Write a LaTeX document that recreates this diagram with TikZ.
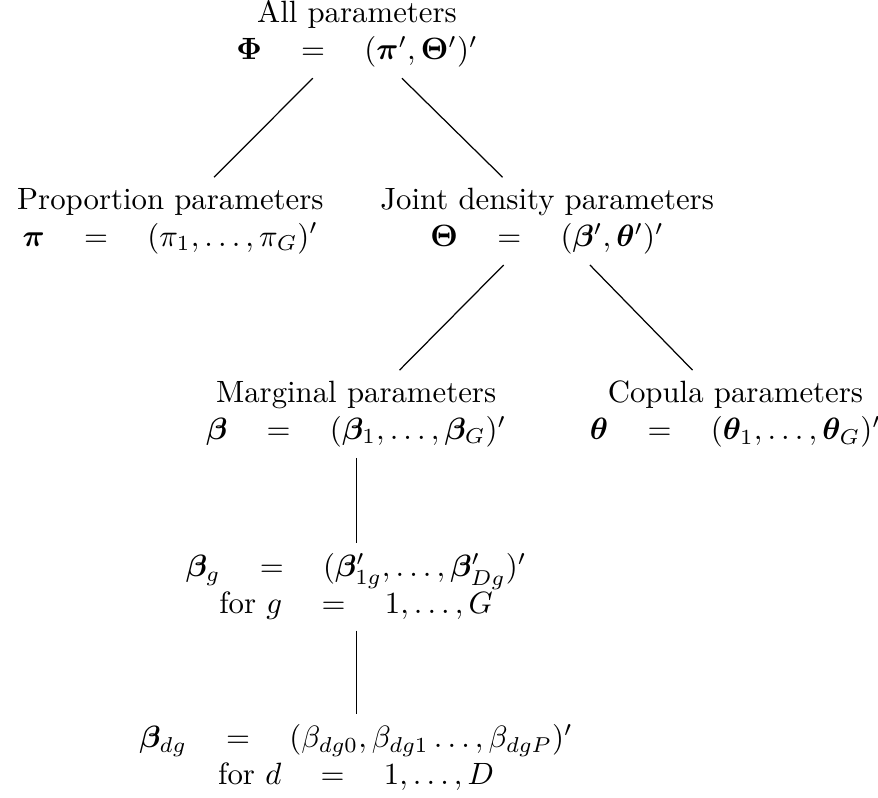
\documentclass[tikz,border=0pt]{standalone}
\usepackage{amsmath,amssymb,amsfonts}
\usepackage{bm}
\usepackage{tikz}
\usetikzlibrary{positioning}

\begin{document}
\begin{tikzpicture}[
        params/.style={align=center, inner sep=3.33pt},
        link/.style={line width=0.4pt}
    ]
    \useasboundingbox (-4.075,0.388) rectangle (5.947,-8.71);
    \node [params] (root) {All parameters\\ $\bm{\Phi} \quad = \quad (\bm{\pi}', \bm{\Theta}')'$};
    \node [params, below=1.13cm of root, xshift=-2.13cm] (prop)
        {Proportion parameters\\ $\bm{\pi} \quad = \quad (\pi_1, \ldots, \pi_G)'$};
    \node [params, below=1.13cm of root, xshift=2.17cm] (joint)
        {Joint density parameters\\ $\bm{\Theta} \quad = \quad (\bm{\beta}', \bm{\theta}')'$};
    \node [params, below=1.2cm of joint, xshift=-2.18cm] (marg)
        {Marginal parameters\\ $\bm{\beta} \quad = \quad (\bm{\beta}_1, \ldots, \bm{\beta}_G)'$};
    \node [params, below=1.2cm of joint, xshift=2.15cm] (cop)
        {Copula parameters\\ $\bm{\theta} \quad = \quad (\bm{\theta}_1, \ldots, \bm{\theta}_G)'$};
    \node [params, below=0.97cm of marg] (bg)
        {$\bm{\beta}_g \quad = \quad (\bm{\beta}'_{1g}, \ldots, \bm{\beta}'_{Dg})'$\\ for $g \quad = \quad 1, \ldots, G$};
    \node [params, below=0.95cm of bg] (bdg)
        {$\bm{\beta}_{dg} \quad = \quad (\beta_{dg0}, \beta_{dg1} \ldots, \beta_{dgP})'$\\ for $d \quad = \quad 1, \ldots, D$};
    \draw[link] (root) -- (prop);
    \draw[link] (root) -- (joint);
    \draw[link] (joint) -- (marg);
    \draw[link] (joint) -- (cop);
    \draw[link] (marg) -- (bg);
    \draw[link] (bg) -- (bdg);
  \end{tikzpicture}
\end{document}
